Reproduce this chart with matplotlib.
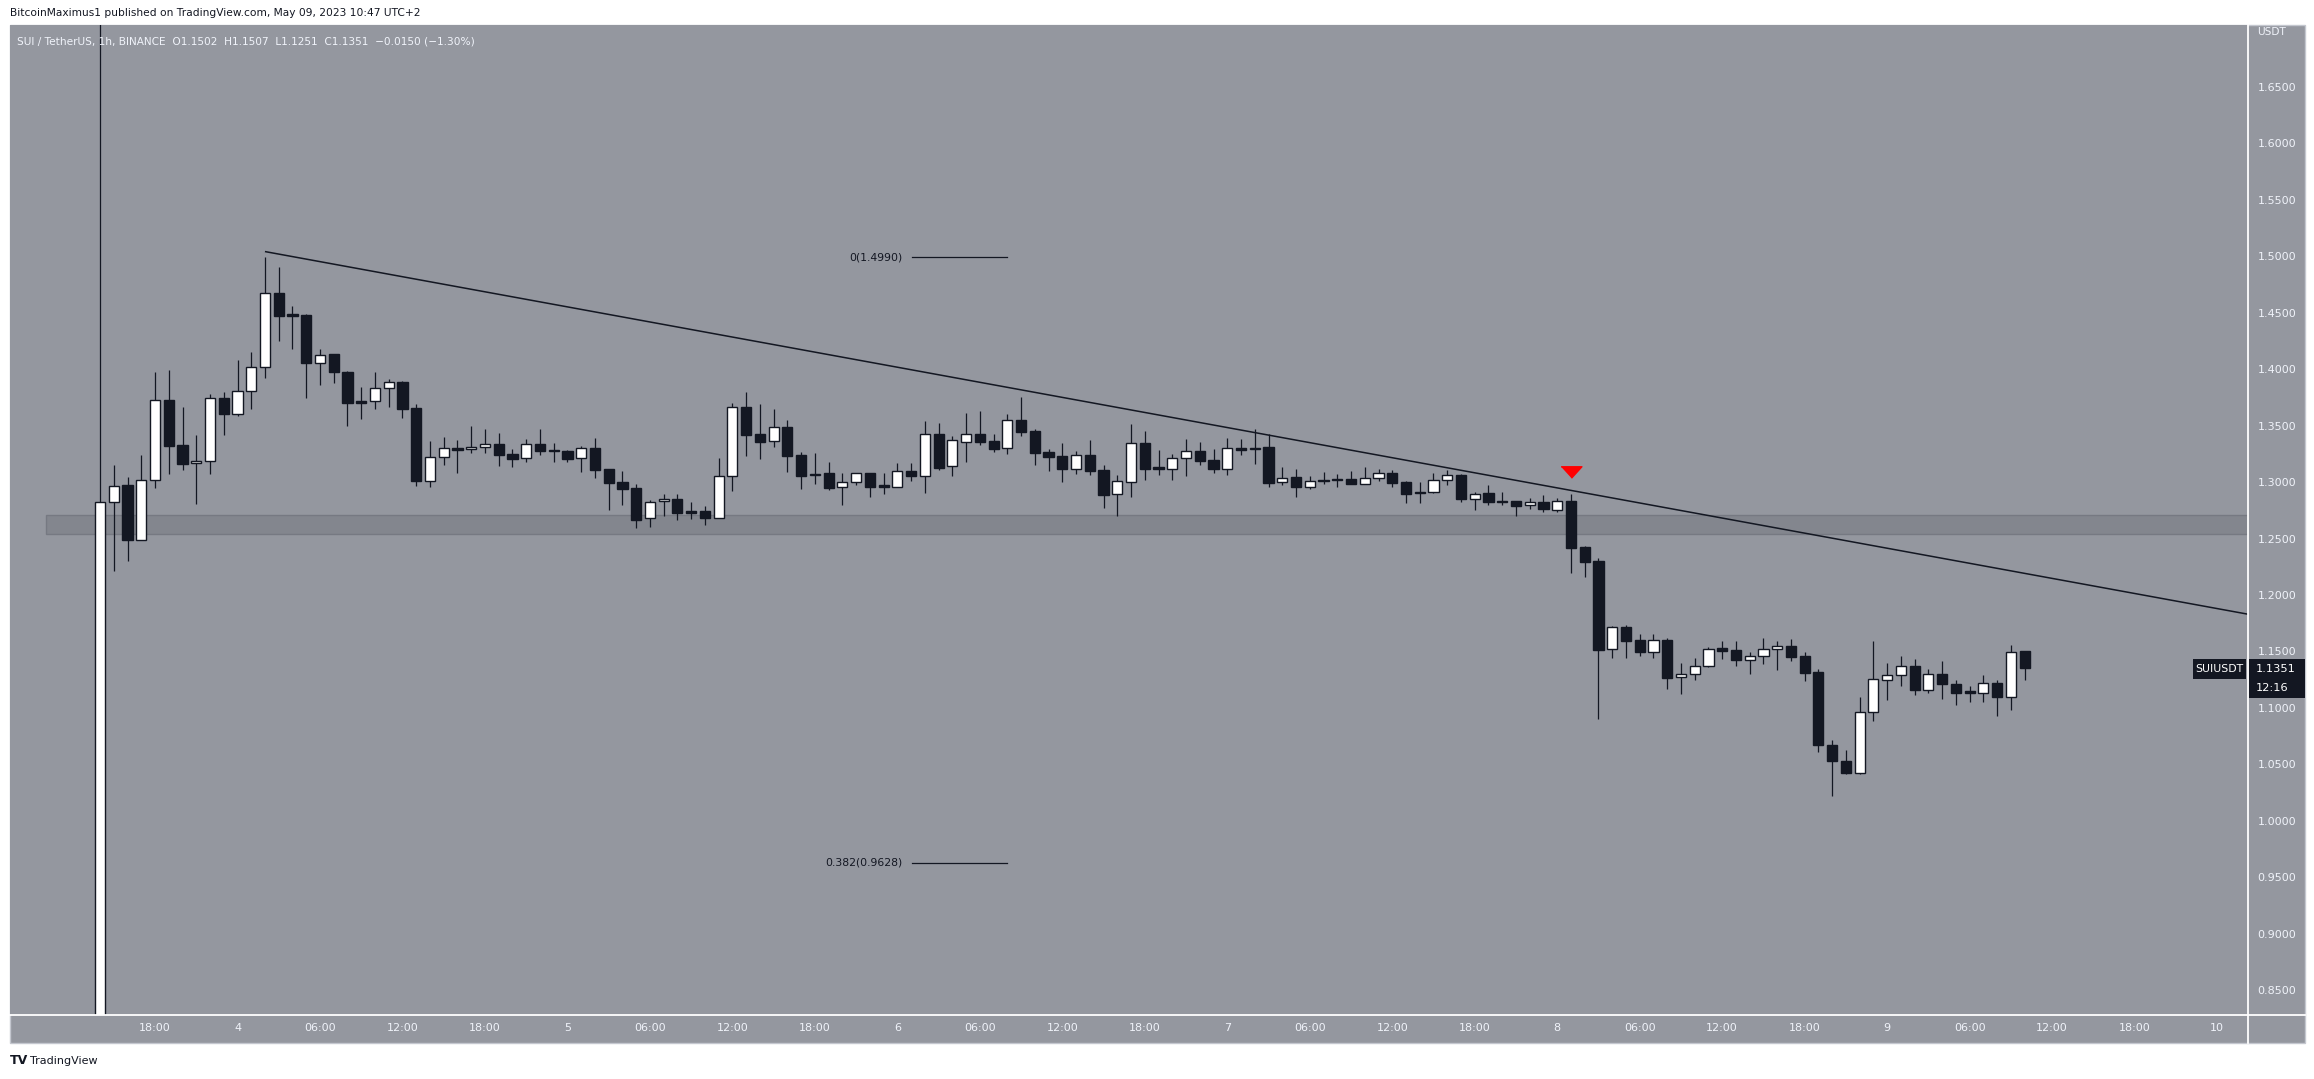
import numpy as np
import matplotlib
matplotlib.use("Agg")
import matplotlib.pyplot as plt
from matplotlib.patches import Rectangle
from matplotlib.lines import Line2D

plt.rcParams['font.family'] = ['DejaVu Sans']

# ---------------- data ----------------
# hour offsets relative to 2023-05-03 18:00 (1h candles, SUI/USDT)
first_hour = -4
opens = [0.60, 1.2827, 1.2975, 1.2491, 1.3016, 1.3725, 1.3326, 1.3167, 1.3184, 1.3742,
         1.3601, 1.3804, 1.4017, 1.4672, 1.4484, 1.4478, 1.4052, 1.4132, 1.3973, 1.3716,
         1.3716, 1.3831, 1.3884, 1.3657, 1.3013, 1.3220, 1.3291, 1.3291, 1.3308, 1.3335,
         1.3246, 1.3211, 1.3335, 1.3282, 1.3273, 1.3211, 1.3300, 1.3114, 1.2998, 1.2945,
         1.2679, 1.2830, 1.2848, 1.2744, 1.2741, 1.2685, 1.3051, 1.3663, 1.3424, 1.3362,
         1.3485, 1.3238, 1.3060, 1.3078, 1.2954, 1.3004, 1.3078, 1.2966, 1.2954, 1.3096,
         1.3057, 1.3424, 1.3140, 1.3353, 1.3424, 1.3362, 1.3300, 1.3548, 1.3450, 1.3264,
         1.3232, 1.3120, 1.3238, 1.3108, 1.2892, 1.2998, 1.3344, 1.3126, 1.3114, 1.3211,
         1.3273, 1.3193, 1.3120, 1.3300, 1.3291, 1.3309, 1.2998, 1.3043, 1.2954, 1.3016,
         1.3025, 1.3025, 1.2987, 1.3034, 1.3081, 1.2999, 1.2910, 1.2916, 1.3016, 1.3063,
         1.2854, 1.2904, 1.2833, 1.2833, 1.2795, 1.2824, 1.2756, 1.2833, 1.2426, 1.2302,
         1.1525, 1.1717, 1.1602, 1.1498, 1.1602, 1.1271, 1.1298, 1.1369, 1.1528, 1.1513,
         1.1422, 1.1457, 1.1519, 1.1549, 1.1460, 1.1319, 1.0672, 1.0530, 1.0421, 1.0967,
         1.1245, 1.1289, 1.1369, 1.1162, 1.1298, 1.1209, 1.1141, 1.1135, 1.1218, 1.1100,
         1.1502]
highs = [1.80, 1.3152, 1.3046, 1.3241, 1.3976, 1.3993, 1.3666, 1.3418, 1.3778, 1.3796,
         1.4082, 1.4153, 1.4994, 1.4906, 1.4557, 1.4489, 1.4179, 1.4132, 1.3984, 1.3843,
         1.3976, 1.3914, 1.3893, 1.3692, 1.3364, 1.3400, 1.3373, 1.3497, 1.3471, 1.3435,
         1.3294, 1.3382, 1.3471, 1.3347, 1.3285, 1.3320, 1.3391, 1.3114, 1.3099, 1.2981,
         1.2839, 1.2895, 1.2895, 1.2821, 1.2789, 1.3214, 1.3701, 1.3799, 1.3692, 1.3645,
         1.3550, 1.3264, 1.3255, 1.3176, 1.3078, 1.3078, 1.3084, 1.3081, 1.3167, 1.3167,
         1.3542, 1.3521, 1.3406, 1.3612, 1.3630, 1.3426, 1.3604, 1.3754, 1.3468, 1.3291,
         1.3347, 1.3276, 1.3373, 1.3152, 1.3060, 1.3515, 1.3453, 1.3285, 1.3249, 1.3382,
         1.3356, 1.3294, 1.3391, 1.3382, 1.3471, 1.3427, 1.3134, 1.3116, 1.3054, 1.3090,
         1.3072, 1.3099, 1.3134, 1.3117, 1.3108, 1.3010, 1.2999, 1.3081, 1.3108, 1.3072,
         1.2913, 1.2975, 1.2913, 1.2833, 1.2857, 1.2886, 1.2860, 1.2895, 1.2434, 1.2328,
         1.1726, 1.1735, 1.1655, 1.1655, 1.1620, 1.1398, 1.1442, 1.1540, 1.1593, 1.1593,
         1.1496, 1.1620, 1.1593, 1.1611, 1.1496, 1.1345, 1.0716, 1.0628, 1.1097, 1.1593,
         1.1398, 1.1460, 1.1434, 1.1345, 1.1416, 1.1248, 1.1195, 1.1292, 1.1248, 1.1554,
         1.1507]
lows = [0.55, 1.2216, 1.2305, 1.2485, 1.2951, 1.3075, 1.3105, 1.2809, 1.3075, 1.3421,
        1.3589, 1.3651, 1.3925, 1.4253, 1.4182, 1.3748, 1.3864, 1.3881, 1.3500, 1.3562,
        1.3651, 1.3669, 1.3571, 1.2969, 1.2960, 1.3155, 1.3084, 1.3261, 1.3261, 1.3146,
        1.3137, 1.3181, 1.3243, 1.3181, 1.3181, 1.3093, 1.3040, 1.2756, 1.2801, 1.2597,
        1.2606, 1.2703, 1.2668, 1.2677, 1.2623, 1.2685, 1.2925, 1.3235, 1.3208, 1.3314,
        1.3093, 1.2942, 1.2987, 1.2934, 1.2801, 1.2978, 1.2871, 1.2898, 1.2954, 1.3013,
        1.2907, 1.3111, 1.3057, 1.3181, 1.3332, 1.3270, 1.3252, 1.3412, 1.3155, 1.3102,
        1.3004, 1.3075, 1.3066, 1.2774, 1.2703, 1.2872, 1.3022, 1.3066, 1.3022, 1.3057,
        1.3155, 1.3084, 1.3066, 1.3244, 1.3164, 1.2960, 1.2978, 1.2872, 1.2942, 1.2987,
        1.2960, 1.2987, 1.2987, 1.3007, 1.2960, 1.2818, 1.2818, 1.2907, 1.2978, 1.2827,
        1.2756, 1.2801, 1.2801, 1.2703, 1.2765, 1.2739, 1.2739, 1.2198, 1.2163, 1.0899,
        1.1445, 1.1445, 1.1463, 1.1445, 1.1171, 1.1126, 1.1251, 1.1360, 1.1437, 1.1375,
        1.1304, 1.1392, 1.1339, 1.1419, 1.1242, 1.0613, 1.0223, 1.0418, 1.0418, 1.0887,
        1.1073, 1.1197, 1.1118, 1.1135, 1.1082, 1.1029, 1.1056, 1.1056, 1.0932, 1.0985,
        1.1251]
closes = [1.2821, 1.2969, 1.2491, 1.3016, 1.3725, 1.3323, 1.3164, 1.3184, 1.3742, 1.3601,
          1.3804, 1.4017, 1.4672, 1.4475, 1.4475, 1.4058, 1.4129, 1.3979, 1.3704, 1.3704,
          1.3831, 1.3884, 1.3651, 1.3013, 1.3220, 1.3300, 1.3288, 1.3308, 1.3335, 1.3243,
          1.3208, 1.3335, 1.3279, 1.3273, 1.3208, 1.3300, 1.3111, 1.2995, 1.2942, 1.2668,
          1.2827, 1.2854, 1.2730, 1.2730, 1.2685, 1.3051, 1.3663, 1.3421, 1.3359, 1.3485,
          1.3235, 1.3057, 1.3075, 1.2951, 1.3004, 1.3078, 1.2960, 1.2960, 1.3096, 1.3057,
          1.3424, 1.3128, 1.3370, 1.3424, 1.3359, 1.3297, 1.3548, 1.3447, 1.3261, 1.3226,
          1.3120, 1.3238, 1.3102, 1.2889, 1.3007, 1.3344, 1.3120, 1.3120, 1.3211, 1.3273,
          1.3190, 1.3120, 1.3300, 1.3288, 1.3306, 1.2996, 1.3040, 1.2954, 1.3007, 1.3007,
          1.3016, 1.2987, 1.3034, 1.3078, 1.2995, 1.2898, 1.2901, 1.3016, 1.3060, 1.2854,
          1.2892, 1.2827, 1.2821, 1.2792, 1.2821, 1.2765, 1.2833, 1.2420, 1.2296, 1.1516,
          1.1717, 1.1596, 1.1498, 1.1602, 1.1268, 1.1298, 1.1369, 1.1519, 1.1507, 1.1428,
          1.1457, 1.1519, 1.1546, 1.1454, 1.1313, 1.0675, 1.0533, 1.0427, 1.0961, 1.1254,
          1.1289, 1.1369, 1.1162, 1.1298, 1.1215, 1.1135, 1.1135, 1.1218, 1.1100, 1.1493,
          1.1351]

price_ticks = [0.85, 0.90, 0.95, 1.00, 1.05, 1.10, 1.15, 1.20, 1.25, 1.30,
               1.35, 1.40, 1.45, 1.50, 1.55, 1.60, 1.65]
time_tick_hours = [0, 6, 12, 18, 24, 30, 36, 42, 48, 54, 60, 66, 72, 78, 84, 90,
                   96, 102, 108, 114, 120, 126, 132, 138, 144, 150]
time_tick_labels = ["18:00", "4", "06:00", "12:00", "18:00", "5", "06:00", "12:00", "18:00",
                    "6", "06:00", "12:00", "18:00", "7", "06:00", "12:00", "18:00", "8",
                    "06:00", "12:00", "18:00", "9", "06:00", "12:00", "18:00", "10"]

# drawings
trend_hours = [8.05, 152.25]
trend_prices = [1.5041, 1.1830]
support_zone = (1.2538, 1.2706)
support_start_hour = -7.9
fib_levels = ["0", "0.382"]
fib_prices = [1.4990, 0.9628]
fib_hours = (55.1, 62.0)
signal_hour = 103
signal_price = 1.3090
last_price = 1.1351
countdown = "12:16"

# ---------------- style ----------------
W, H = 2314, 1079
BG = '#94979f'
DARK = '#131722'
LIGHT = '#f0f3fa'

fig = plt.figure(figsize=(W / 100, H / 100), dpi=100, facecolor='white')

def fx(px):
    return px / W

def fy(py):
    return 1 - py / H

# chart panel background
fig.patches.append(Rectangle((fx(10), fy(1043)), fx(2305) - fx(10), fy(25) - fy(1043),
                             transform=fig.transFigure, facecolor=BG,
                             edgecolor='#c4c7cf', linewidth=1.0, zorder=-5))

ax = fig.add_axes([fx(10), fy(1015), fx(2248) - fx(10), fy(25) - fy(1015)])
ax.set_zorder(1)
ax.set_facecolor(BG)
ax.set_xlim(-10.55, 152.25)
ax.set_ylim(0.8280, 1.7049)
for s in ax.spines.values():
    s.set_visible(False)

# candles
hours = np.arange(len(opens)) + first_hour
o = np.array(opens); h = np.array(highs); l = np.array(lows); c = np.array(closes)
up = c >= o
ax.vlines(hours, l, h, color=DARK, linewidth=0.9, zorder=3)
body_low = np.minimum(o, c)
body_h = np.maximum(np.abs(c - o), 0.0012)
ax.bar(hours[up], body_h[up], bottom=body_low[up], width=0.74, color='white',
       edgecolor=DARK, linewidth=1.0, zorder=4)
ax.bar(hours[~up], body_h[~up], bottom=body_low[~up], width=0.74, color=DARK,
       edgecolor=DARK, linewidth=1.0, zorder=4)

# support zone
ax.add_patch(Rectangle((support_start_hour, support_zone[0]),
                       200, support_zone[1] - support_zone[0],
                       facecolor='#83868e', edgecolor='#767982', linewidth=1.0, zorder=1))

# trend line
ax.plot(trend_hours, trend_prices, color=DARK, linewidth=1.1, zorder=5)

# fib levels
for lev, pr in zip(fib_levels, fib_prices):
    ax.plot(fib_hours, [pr, pr], color=DARK, linewidth=0.9, zorder=5)
    ax.text(fib_hours[0] - 0.7, pr, f"{lev}({pr:.4f})", ha='right', va='center',
            fontsize=7.8, color=DARK, zorder=6)

# signal arrow
tri = [(-1, 0.55), (1, 0.55), (0, -0.55)]
ax.plot([signal_hour], [signal_price], marker=tri, markersize=15, color='#ff0000',
        linestyle='none', zorder=7)

# axes ticks
ax.yaxis.tick_right()
ax.set_yticks(price_ticks)
ax.set_yticklabels([f"{v:.4f}" for v in price_ticks])
ax.tick_params(axis='y', length=0, pad=7, labelcolor=LIGHT, labelsize=8)
ax.set_xticks(time_tick_hours)
ax.set_xticklabels(time_tick_labels)
ax.tick_params(axis='x', length=0, pad=6, labelcolor=LIGHT, labelsize=8)

# separators
fig.add_artist(Line2D([fx(10), fx(2305)], [fy(1015), fy(1015)], color='white', linewidth=1.3, zorder=3))
fig.add_artist(Line2D([fx(2248), fx(2248)], [fy(25), fy(1043)], color='white', linewidth=1.3, zorder=3))

# texts
fig.text(fx(10), fy(13), "BitcoinMaximus1 published on TradingView.com, May 09, 2023 10:47 UTC+2",
         ha='left', va='center', fontsize=7.7, color=DARK)
fig.text(fx(17), fy(41), "SUI / TetherUS, 1h, BINANCE  O1.1502  H1.1507  L1.1251  C1.1351  \u22120.0150 (\u22121.30%)",
         ha='left', va='center', fontsize=7.6, color=LIGHT, zorder=4)
fig.text(fx(2257), fy(32), "USDT", ha='left', va='center', fontsize=7.6, color=LIGHT, zorder=4)

# last price labels (position from the last price via the axes transform)
y_last_px = H - ax.transData.transform((0, last_price))[1]
fig.patches.append(Rectangle((fx(2193), fy(y_last_px + 11)), fx(2246) - fx(2193), fy(y_last_px - 9) - fy(y_last_px + 11),
                             transform=fig.transFigure, facecolor=DARK, edgecolor='none', zorder=6))
fig.text(fx(2219.5), fy(y_last_px + 1), "SUIUSDT", ha='center', va='center',
         fontsize=7.8, color='white', zorder=7)
fig.patches.append(Rectangle((fx(2249), fy(y_last_px + 30)), fx(2305) - fx(2249), fy(y_last_px - 9) - fy(y_last_px + 30),
                             transform=fig.transFigure, facecolor=DARK, edgecolor='none', zorder=6))
fig.text(fx(2256), fy(y_last_px + 1), f"{last_price:.4f}", ha='left', va='center',
         fontsize=8.2, color='white', zorder=7)
fig.text(fx(2256), fy(y_last_px + 20), countdown, ha='left', va='center',
         fontsize=8.2, color='white', zorder=7)

# footer logo
fig.text(fx(10), fy(1061), "TV", ha='left', va='center', fontsize=9, fontweight='bold', color=DARK)
fig.text(fx(30), fy(1061), "TradingView", ha='left', va='center', fontsize=8.0, color=DARK)

fig.savefig("out.png", dpi=100, facecolor='white')
